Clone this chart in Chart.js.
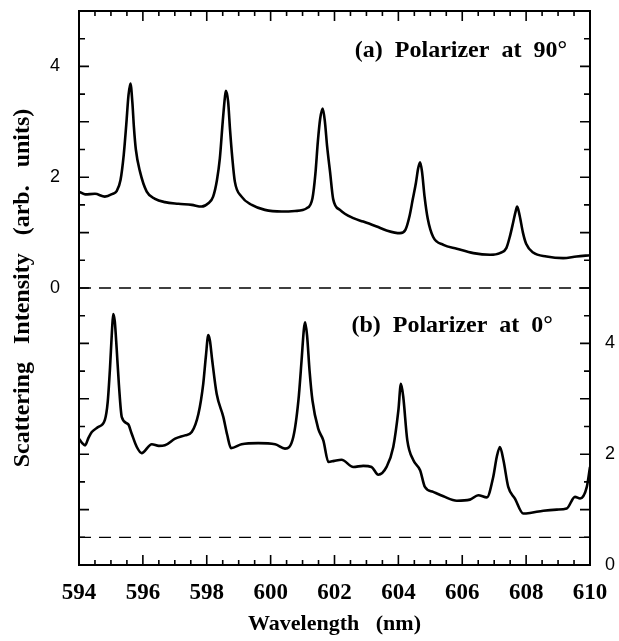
<!DOCTYPE html>
<html>
<head>
<meta charset="utf-8">
<title>Scattering intensity vs wavelength</title>
<script src="https://cdn.jsdelivr.net/npm/chart.js@4.4.0/dist/chart.umd.min.js"></script>
<style>
  body{margin:0;background:#fff;}
  #wrap{width:619px;height:641px;}
</style>
</head>
<body>
<div id="wrap"><canvas id="spectrum" width="619" height="641"></canvas></div>
<script>
// start data
// (a) polarizer at 90 deg, read against the left axis
const waveA = [594.00,594.19,594.50,594.81,595.05,595.18,595.30,595.40,595.48,595.55,595.61,595.67,595.72,595.78,595.91,
  596.12,596.38,596.69,597.11,597.53,597.84,598.05,598.20,598.32,598.41,598.50,598.57,598.60,598.67,598.73,598.80,598.88,
  599.09,599.41,599.82,600.35,600.76,601.13,601.31,601.40,601.48,601.55,601.63,601.70,601.77,601.86,601.96,
  602.17,602.59,602.90,603.32,603.63,604.05,604.22,604.35,604.45,604.55,604.62,604.68,604.74,604.82,604.92,
  605.09,605.41,605.83,606.35,606.87,607.18,607.38,607.50,607.60,607.67,607.72,607.80,607.90,608.00,
  608.22,608.64,609.16,609.58,610.00];
const intensityA = [1.74,1.69,1.70,1.65,1.70,1.75,1.95,2.40,2.95,3.48,3.69,3.36,2.90,2.50,2.10,
  1.74,1.61,1.55,1.52,1.50,1.47,1.53,1.65,1.95,2.34,3.00,3.45,3.56,3.36,2.85,2.35,1.92,
  1.65,1.50,1.41,1.38,1.39,1.44,1.62,2.05,2.65,3.05,3.24,3.00,2.55,2.10,1.60,
  1.41,1.26,1.20,1.11,1.04,0.99,1.05,1.30,1.60,1.90,2.16,2.27,2.10,1.65,1.25,
  0.92,0.78,0.71,0.63,0.60,0.63,0.72,0.95,1.20,1.38,1.47,1.30,1.00,0.80,
  0.64,0.57,0.54,0.57,0.59];

// (b) polarizer at 0 deg, read against the right axis
const waveB = [594.00,594.10,594.19,594.30,594.40,594.60,594.81,594.90,594.97,595.03,595.07,595.12,595.18,595.25,595.34,
  595.54,595.65,595.81,595.96,596.28,596.50,596.69,597.01,597.32,597.53,597.74,597.89,597.97,598.05,598.10,598.17,598.31,
  598.52,598.64,598.76,599.09,599.61,600.14,600.45,600.71,600.87,600.97,601.04,601.08,601.14,601.22,601.31,601.49,
  601.65,601.81,601.99,602.22,602.59,602.90,603.16,603.37,603.63,603.84,604.00,604.08,604.15,604.28,604.47,604.68,
  604.83,605.09,605.41,605.83,606.24,606.50,606.77,606.97,607.08,607.18,607.29,607.44,607.65,607.91,608.12,
  608.54,608.96,609.27,609.53,609.69,609.90,610.00];
const intensityB = [2.28,2.20,2.16,2.30,2.40,2.49,2.62,2.95,3.55,4.20,4.53,4.40,3.90,3.25,2.67,
  2.54,2.37,2.13,2.02,2.18,2.15,2.16,2.28,2.34,2.40,2.73,3.27,3.75,4.15,4.05,3.70,3.09,
  2.67,2.35,2.11,2.18,2.20,2.18,2.10,2.31,2.97,3.70,4.25,4.38,4.15,3.50,2.97,2.46,
  2.25,1.86,1.88,1.90,1.77,1.79,1.77,1.63,1.77,2.13,2.79,3.27,3.05,2.25,1.89,1.71,
  1.41,1.32,1.24,1.16,1.18,1.26,1.22,1.59,1.95,2.13,1.89,1.41,1.20,0.93,0.94,
  0.98,1.00,1.02,1.23,1.20,1.41,1.77];

const xTicks = [594,596,598,600,602,604,606,608,610];
const leftTicks = [0,2,4];
const rightTicks = [0,2,4];
const zeroA = 0;     // dashed zero of (a)
const zeroB = 0.5;   // dashed zero of (b)
const labelA = '(a)  Polarizer  at  90°';
const labelB = '(b)  Polarizer  at  0°';
// end data

const serif = '"Liberation Serif", "Times New Roman", serif';
const sans = '"Liberation Sans", Arial, sans-serif';

function pts(xs, ys){ return xs.map((v,i) => ({x:v, y:ys[i]})); }

// keep chart.js from growing the plot margins for label overhang
function nopad(s){
  s.paddingTop = 0; s.paddingBottom = 0; s.paddingLeft = 0; s.paddingRight = 0;
}

// start frame + inward ticks + panel labels
const frameticks = {
  id: 'frameticks',
  afterDatasetsDraw(chart){
    const {ctx, chartArea:{left,right,top,bottom}, scales:{x,y,y2}} = chart;
    ctx.save();
    ctx.strokeStyle = '#000';
    ctx.lineWidth = 2;
    ctx.strokeRect(left, top, right-left, bottom-top);

    ctx.lineWidth = 1.6;
    ctx.beginPath();
    for (let v = x.min; v <= x.max + 1e-9; v += 0.5){
      const px = x.getPixelForValue(v);
      const len = Math.abs(v % 2) < 1e-9 ? 10 : 5;
      ctx.moveTo(px, bottom); ctx.lineTo(px, bottom-len);
      ctx.moveTo(px, top); ctx.lineTo(px, top+len);
    }
    for (let v = y.min; v <= y.max + 1e-9; v += 0.5){
      const py = y.getPixelForValue(v);
      const len = Math.abs(v % 1) < 1e-9 ? 10 : 6;
      ctx.moveTo(left, py); ctx.lineTo(left+len, py);
    }
    for (let v = y2.min; v <= y2.max + 1e-9; v += 0.5){
      const py = y2.getPixelForValue(v);
      const len = Math.abs(v % 1) < 1e-9 ? 10 : 6;
      ctx.moveTo(right, py); ctx.lineTo(right-len, py);
    }
    ctx.stroke();

    ctx.fillStyle = '#000';
    ctx.font = 'bold 24px ' + serif;
    ctx.textAlign = 'right';
    ctx.textBaseline = 'middle';
    ctx.fillText(labelA, x.getPixelForValue(609.28), y.getPixelForValue(4.29));
    ctx.fillText(labelB, x.getPixelForValue(608.84), y2.getPixelForValue(4.32));
    ctx.restore();
  }
};
// end frame

const ctx = document.getElementById('spectrum');

let spectrum = new Chart(ctx, {
  type: 'line',
  data: {
    datasets: [
      { data: pts(waveA, intensityA), yAxisID: 'y', borderColor: '#000', borderWidth: 2.6,
        pointRadius: 0, cubicInterpolationMode: 'monotone' },
      { data: pts(waveB, intensityB), yAxisID: 'y2', borderColor: '#000', borderWidth: 2.6,
        pointRadius: 0, cubicInterpolationMode: 'monotone' },
      { data: pts([594,610],[zeroA,zeroA]), yAxisID: 'y', borderColor: '#000', borderWidth: 1.3,
        borderDash: [12,8], pointRadius: 0 },
      { data: pts([594,610],[zeroB,zeroB]), yAxisID: 'y2', borderColor: '#000', borderWidth: 1.3,
        borderDash: [12,8], pointRadius: 0 }
    ]
  },
  options: {
    responsive: false,
    animation: false,
    layout: { padding: { top: 11, left: 0, right: 0, bottom: 0 } },
    plugins: { legend: { display: false }, tooltip: { enabled: false } },
    scales: {
      x: {
        type: 'linear', min: 594, max: 610,
        afterBuildTicks: s => { s.ticks = xTicks.map(v => ({value: v})); },
        afterFit: s => { s.height = 76; nopad(s); },
        grid: { display: false, drawTicks: false }, border: { display: false },
        ticks: { color: '#000', padding: 14, maxRotation: 0, font: { family: serif, size: 23, weight: 'bold' } },
        title: { display: true, text: 'Wavelength   (nm)', color: '#000',
          font: { family: serif, size: 22, weight: 'bold' }, padding: { top: 0, bottom: 3 } }
      },
      y: {
        position: 'left', min: -5, max: 5,
        afterBuildTicks: s => { s.ticks = leftTicks.map(v => ({value: v})); },
        afterFit: s => { s.width = 79; nopad(s); },
        grid: { display: false, drawTicks: false }, border: { display: false },
        ticks: { color: '#000', padding: 19, font: { family: sans, size: 18 } },
        title: { display: true, text: 'Scattering   Intensity   (arb.   units)', color: '#000',
          font: { family: serif, size: 24, weight: 'bold' }, padding: { top: 8, bottom: 0 } }
      },
      y2: {
        position: 'right', min: 0, max: 10,
        afterBuildTicks: s => { s.ticks = rightTicks.map(v => ({value: v})); },
        afterFit: s => { s.width = 29; nopad(s); },
        grid: { display: false, drawTicks: false }, border: { display: false },
        ticks: { color: '#000', padding: 15, font: { family: sans, size: 18 } }
      }
    }
  },
  plugins: [frameticks]
});
</script>
</body>
</html>
